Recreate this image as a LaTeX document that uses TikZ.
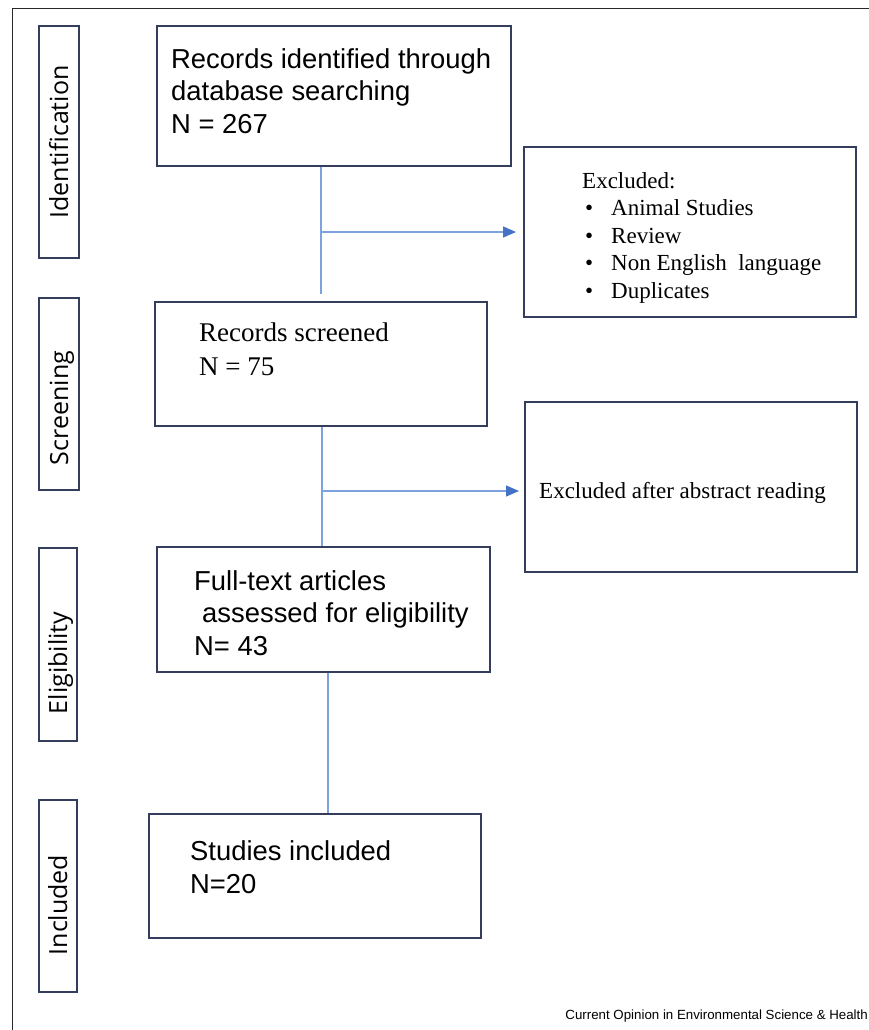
\documentclass[tikz,border=0pt]{standalone}
\usepackage{fontspec}
\setmainfont{Liberation Serif}
\setsansfont{Liberation Sans}
\newfontfamily\stagefont{Open Sans}
\usetikzlibrary{arrows.meta,calc}
\definecolor{boxc}{RGB}{52,62,92}
\definecolor{linec}{RGB}{125,163,222}
\definecolor{tipc}{RGB}{68,114,196}
\definecolor{framec}{RGB}{40,40,40}
\tikzset{
  stagebox/.style={draw=boxc, line width=1.8pt, inner sep=0pt},
  flowbox/.style={draw=boxc, line width=2pt, inner sep=0pt},
  stagetext/.style={rotate=90, anchor=base, inner sep=0pt, font=\stagefont\fontsize{25}{30}\selectfont},
  sanstext/.style={anchor=base west, align=left, inner sep=0pt, font=\sffamily\fontsize{27.4}{32.5}\selectfont},
  seriftext/.style={anchor=base west, align=left, inner sep=0pt, font=\rmfamily\fontsize{27}{34}\selectfont},
  listtext/.style={anchor=base west, align=left, inner sep=0pt, font=\rmfamily\fontsize{23}{27.5}\selectfont},
  conn/.style={draw=linec, line width=1.3pt},
  arr/.style={conn, -{Triangle[length=13pt,width=11pt,color=tipc]}},
}
\newcommand{\bul}{\hspace*{3pt}\makebox[26pt][l]{\textbullet}}
\begin{document}
\begin{tikzpicture}[x=1pt,y=-1pt]
\useasboundingbox (0,0) rectangle (869,1030);
% outer frame
\coordinate (fbl) at (12.5,1030);
\coordinate (ftl) at (12.5,9);
\coordinate (ftr) at (869,9);
\draw[framec, line width=1pt] (fbl) -- (ftl) -- (ftr);

% stage labels
\node[stagebox, minimum width=40pt, minimum height=232pt] (sid) at (59,142) {};
\node[stagetext] (tid) at (68,142) {Identification};
\node[stagebox, minimum width=40pt, minimum height=192pt] (ssc) at (59,394) {};
\node[stagetext] (tsc) at (68,408) {Screening};
\node[stagebox, minimum width=38pt, minimum height=193pt] (sel) at (58,644.5) {};
\node[stagetext] (tel) at (67,663) {Eligibility};
\node[stagebox, minimum width=38pt, minimum height=192pt] (sin) at (58,896) {};
\node[stagetext] (tin) at (67,905) {Included};

% main boxes (text anchored at the baseline of its last line)
\node[flowbox, minimum width=354pt, minimum height=140pt] (b1) at (334,96) {};
\node[sanstext] (t1) at (171,133) {Records identified through\\database searching\\N = 267};
\node[flowbox, minimum width=332pt, minimum height=124pt] (b2) at (321,364) {};
\node[seriftext] (t2) at (199,375) {Records screened\\N = 75};
\node[flowbox, minimum width=333pt, minimum height=125pt] (b3) at (323.5,609.5) {};
\node[sanstext] (t3) at (194,655) {Full-text articles\\\hspace*{8pt}assessed for eligibility\\N= 43};
\node[flowbox, minimum width=332pt, minimum height=124pt] (b4) at (315,876) {};
\node[sanstext] (t4) at (190,893) {Studies included\\N=20};

% exclusion boxes
\node[flowbox, minimum width=332pt, minimum height=170pt] (e1) at (690,232) {};
\node[listtext] (t5) at (582,298) {Excluded:\\\bul Animal Studies\\\bul Review\\\bul Non English\ \ language\\\bul Duplicates};
\node[flowbox, minimum width=332pt, minimum height=170pt] (e2) at (691,487) {};
\node[listtext] (t6) at (539,498) {Excluded after abstract reading};

% connectors
\coordinate (j1) at (321,232);
\coordinate (j2) at (322,491);
\coordinate (j3) at (328,700);
\draw[conn, shorten >=7pt] (b1.south -| j1) -- (b2.north -| j1);
\draw[arr, shorten >=7pt] (j1) -- (e1.west |- j1);
\draw[conn] (b2.south -| j2) -- (b3.north -| j2);
\draw[arr, shorten >=5pt] (j2) -- (e2.west |- j2);
\draw[conn] (b3.south -| j3) -- (b4.north -| j3);

% footer
\node[anchor=base east, inner sep=0pt, font=\sffamily\fontsize{13.3}{16}\selectfont] (foot) at (868,1019) {Current Opinion in Environmental Science \& Health};
\end{tikzpicture}
\end{document}
